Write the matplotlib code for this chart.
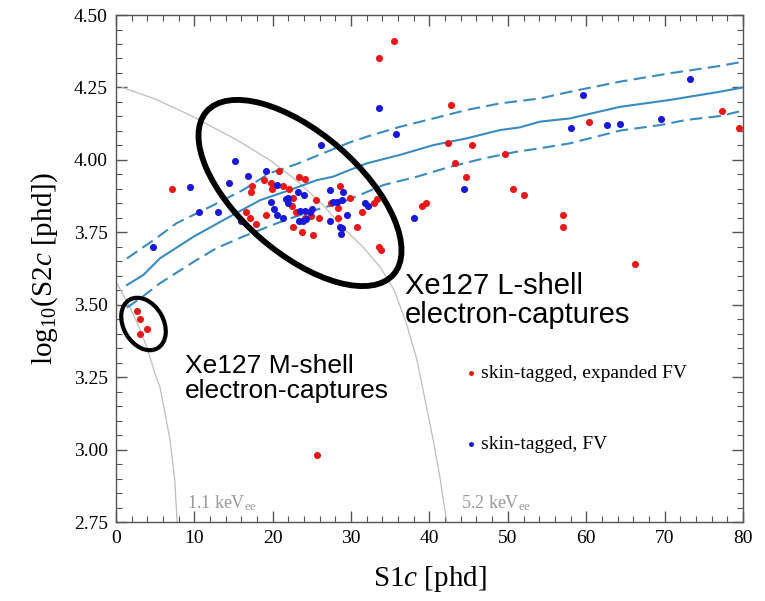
import numpy as np
import matplotlib
matplotlib.use("Agg")
import matplotlib.pyplot as plt
from matplotlib.patches import Ellipse
from matplotlib.ticker import MultipleLocator, FormatStrFormatter

plt.rcParams['font.family'] = ['Liberation Serif', 'DejaVu Serif']
plt.rcParams['mathtext.fontset'] = 'custom'
plt.rcParams['mathtext.rm'] = 'Liberation Serif'
plt.rcParams['mathtext.it'] = 'Liberation Serif:italic'

# skin-tagged, expanded FV (red)
red_s1 = [35.5, 33.5, 7.2, 42.7, 42.4, 45.4, 43.2, 44.7, 49.6, 50.7, 52.0, 39.1, 39.5,
          57.1, 57.1, 60.3, 77.3, 79.5, 66.2, 25.7, 2.7, 3.1, 3.1, 4.0, 33.6, 33.8,
          17.4, 17.2, 18.9, 19.8, 19.9, 20.8, 21.3, 22.1, 23.3, 24.1, 22.6, 22.4,
          16.6, 17.1, 17.9, 19.1, 22.6, 23.7, 25.2, 24.1, 24.9, 25.9, 25.5, 27.4,
          28.6, 28.3, 28.3, 29.8, 31.4, 30.7, 32.9, 33.3, 23.0]
red_s2 = [4.41, 4.35, 3.90, 4.19, 4.06, 4.05, 3.99, 3.94, 4.02, 3.90, 3.88, 3.84, 3.85,
          3.81, 3.77, 4.13, 4.17, 4.11, 3.64, 2.98, 3.48, 3.45, 3.40, 3.415, 3.70, 3.69,
          3.91, 3.89, 3.93, 3.92, 3.90, 3.96, 3.91, 3.90, 3.94, 3.935, 3.87, 3.84,
          3.82, 3.80, 3.78, 3.81, 3.77, 3.75, 3.74, 3.80, 3.805, 3.80, 3.86, 3.85,
          3.91, 3.835, 3.80, 3.87, 3.82, 3.77, 3.85, 3.865, 3.82]

# skin-tagged, FV (blue)
blue_s1 = [4.7, 9.4, 10.6, 13.0, 15.2, 14.4, 16.9, 16.0, 19.2, 20.6, 26.1, 19.8, 20.1,
           20.6, 21.3, 21.7, 22.0, 21.9, 23.2, 24.0, 23.5, 24.1, 24.7, 25.0, 23.3, 23.8,
           24.3, 27.3, 29.0, 27.7, 28.2, 28.8, 27.3, 28.6, 28.9, 28.7, 29.5, 31.8, 32.1,
           33.6, 35.7, 44.4, 38.0, 59.6, 73.3, 58.0, 62.7, 64.3, 69.6]
blue_s2 = [3.70, 3.905, 3.82, 3.82, 3.995, 3.92, 3.945, 3.79, 3.96, 3.915, 4.05, 3.855, 3.83,
           3.81, 3.80, 3.865, 3.87, 3.85, 3.89, 3.88, 3.825, 3.825, 3.82, 3.83, 3.79, 3.79,
           3.795, 3.895, 3.89, 3.855, 3.855, 3.86, 3.79, 3.77, 3.765, 3.745, 3.81, 3.85, 3.84,
           4.18, 4.09, 3.90, 3.80, 4.225, 4.28, 4.11, 4.12, 4.125, 4.14]

# ER band median and +/- lines
mid_x = [1.4, 3.5, 5.6, 9.9, 14.1, 18.4, 22.2, 25.6, 27.7, 29.8, 32.0, 36.2, 40.5, 44.7,
         49.0, 51.5, 54.1, 57.9, 64.3, 70.7, 77.0, 80.0]
mid_y = [3.568, 3.603, 3.660, 3.735, 3.798, 3.861, 3.896, 3.930, 3.942, 3.965, 3.988, 4.017,
         4.051, 4.074, 4.103, 4.112, 4.132, 4.143, 4.183, 4.207, 4.235, 4.250]
up_x = [1.4, 4.8, 7.7, 12.0, 16.2, 19.6, 23.0, 26.9, 29.8, 32.0, 36.2, 40.5, 44.7, 49.0,
        54.1, 57.9, 64.3, 70.7, 77.0, 80.0]
up_y = [3.660, 3.723, 3.781, 3.838, 3.896, 3.954, 3.985, 4.028, 4.060, 4.080, 4.114, 4.143,
        4.172, 4.195, 4.212, 4.235, 4.270, 4.299, 4.324, 4.339]
lo_x = [1.4, 3.5, 5.6, 9.9, 12.8, 16.2, 20.5, 24.7, 29.0, 34.1, 38.4, 42.6, 46.9, 51.1,
        54.1, 57.9, 64.3, 69.4, 72.8, 77.0, 80.0]
lo_y = [3.49, 3.53, 3.574, 3.648, 3.695, 3.735, 3.781, 3.821, 3.855, 3.913, 3.942, 3.976,
        4.005, 4.028, 4.040, 4.057, 4.101, 4.120, 4.138, 4.151, 4.170]

# constant-energy contours
e52_x = [0.8, 5, 9.4, 15.4, 19.6, 23.0, 26.4, 29.0, 31.5, 33.7, 35.5, 37.0, 38.4, 39.6,
         40.5, 41.3, 42.2]
e52_y = [4.25, 4.21, 4.155, 4.069, 4.0, 3.93, 3.845, 3.765, 3.70, 3.63, 3.55, 3.44, 3.31,
         3.15, 3.03, 2.91, 2.75]
e11_x = [0, 1.8, 3.0, 4.1, 5.0, 5.6, 6.3, 6.9, 7.5, 7.8]
e11_y = [3.58, 3.49, 3.42, 3.34, 3.26, 3.217, 3.12, 3.033, 2.895, 2.75]

fig = plt.figure(figsize=(7.65, 6.01), dpi=100)
ax = fig.add_axes([0.1516, 0.1314, 0.8196, 0.8436])

band_col = '#3a8bbf'
ax.plot(e52_x, e52_y, color='#bdbdbd', lw=0.9)
ax.plot(e11_x, e11_y, color='#bdbdbd', lw=0.9)
ax.plot(mid_x, mid_y, color=band_col, lw=1.5)
ax.plot(up_x, up_y, color=band_col, lw=1.5, dashes=(6, 3))
ax.plot(lo_x, lo_y, color=band_col, lw=1.5, dashes=(6, 3))

ax.scatter(red_s1, red_s2, s=26, color='#e81818', lw=0, label='skin-tagged, expanded FV', zorder=3)
ax.scatter(blue_s1, blue_s2, s=26, color='#1818d8', lw=0, label='skin-tagged, FV', zorder=3)

ax.text(9.05, 2.798, r'1.1 keV$_{\mathrm{ee}}$', color='#999999', fontsize=13)
ax.text(44.0, 2.798, r'5.2 keV$_{\mathrm{ee}}$', color='#999999', fontsize=13)

ax.text(36.9, 3.612, 'Xe127 L-shell\nelectron-captures', family='Liberation Sans',
        fontsize=21, va='top', ha='left', linespacing=1.05)
ax.text(8.8, 3.33, 'Xe127 M-shell\nelectron-captures', family='Liberation Sans',
        fontsize=19, va='top', ha='left', linespacing=1.05)

leg = ax.legend(loc='upper left', bbox_to_anchor=(0.535, 0.33), frameon=False,
                fontsize=14, markerscale=0.7, handletextpad=0.0, labelspacing=2.75,
                handlelength=1.0, borderpad=0)

# annotation ellipses (drawn in figure inches)
fig.add_artist(Ellipse((3.00, 4.08), 2.48, 1.20, angle=-41, transform=fig.dpi_scale_trans,
                       fill=False, ec='black', lw=4.2))
fig.add_artist(Ellipse((1.435, 2.77), 0.56, 0.40, angle=-60, transform=fig.dpi_scale_trans,
                       fill=False, ec='black', lw=3.0))

ax.set_xlim(0, 80)
ax.set_ylim(2.75, 4.5)
ax.xaxis.set_major_locator(MultipleLocator(10))
ax.xaxis.set_minor_locator(MultipleLocator(2))
ax.yaxis.set_major_locator(MultipleLocator(0.25))
ax.yaxis.set_minor_locator(MultipleLocator(0.05))
ax.yaxis.set_major_formatter(FormatStrFormatter('%.2f'))
ax.tick_params(which='both', direction='in', top=True, right=True, color='#555555')
ax.tick_params(which='major', length=8, width=1.0, labelsize=14, pad=6)
ax.tick_params(which='minor', length=4, width=0.8)
for sp in ax.spines.values():
    sp.set_color('#555555')
    sp.set_linewidth(1.0)

ax.set_xlabel('S1$c$ [phd]', fontsize=21, labelpad=12)
ax.set_ylabel('log$_{10}$(S2$c$ [phd])', fontsize=21, labelpad=10)

fig.savefig('out.png', dpi=100)
